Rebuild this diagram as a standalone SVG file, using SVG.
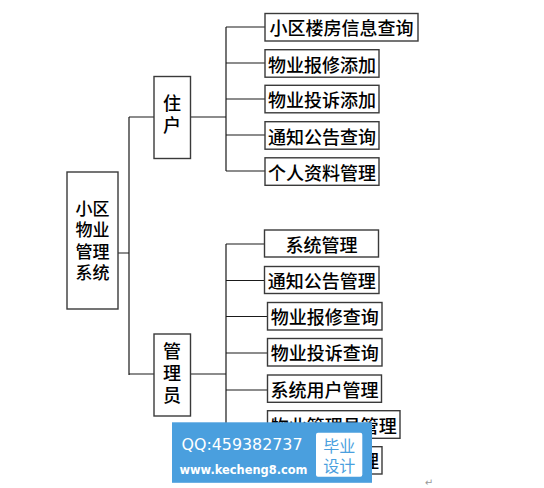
<svg xmlns="http://www.w3.org/2000/svg" width="544" height="488" viewBox="0 0 544 488">
<style>
.box{fill:#fff;stroke:#3a3a3a;stroke-width:1.4}
.t{font-family:"Noto Sans CJK SC","Noto Sans CJK TC",sans-serif;font-size:18px;font-weight:500;fill:#000;text-anchor:middle;dominant-baseline:central}
.rt{font-size:17px}
.v{font-family:"Noto Sans CJK SC","Noto Sans CJK TC",sans-serif;font-size:18px;font-weight:500;fill:#000;writing-mode:vertical-rl}
.ln{stroke:#1a1a1a;stroke-width:1.2;fill:none}
</style>
<rect width="544" height="488" fill="#fff"/>
<g id="connectors">
<path class="ln" d="M118 253H129M129 117V375M129 117H154M190 117H226M226 27V171M226 27H265M226 63H265M226 99H265M226 135H265M226 171H265"/>
<path class="ln" d="M129 374H154M190 374H226M226 244V460M226 244H265M226 280.5H265M226 316.5H268M226 353H268M226 390H268M226 424.5H268M226 460H268"/>
</g>
<g id="root">
<rect class="box" x="67" y="172" width="51" height="137"/>
<text class="t rt"><tspan x="92.5" y="206.5">小区</tspan><tspan x="92.5" y="228">物业</tspan><tspan x="92.5" y="249.5">管理</tspan><tspan x="92.5" y="271">系统</tspan></text>
</g>
<g id="zhuhu">
<rect class="box" x="154" y="76.5" width="36.5" height="82"/>
<text class="v" x="172" y="94.5" letter-spacing="4">住户</text>
</g>
<g id="guanliyuan">
<rect class="box" x="154" y="334" width="36.5" height="82"/>
<text class="v" x="172" y="342" letter-spacing="4.3">管理员</text>
</g>
<g id="r1"><rect class="box" x="265" y="13.5" width="153" height="27.5"/><text class="t" x="341.5" y="27.3">小区楼房信息查询</text></g>
<g id="r2"><rect class="box" x="265" y="49.7" width="114" height="27.5"/><text class="t" x="322" y="63.5">物业报修添加</text></g>
<g id="r3"><rect class="box" x="265" y="85.3" width="114" height="27.5"/><text class="t" x="322" y="99.1">物业投诉添加</text></g>
<g id="r4"><rect class="box" x="265" y="121.7" width="114" height="27.5"/><text class="t" x="322" y="135.5">通知公告查询</text></g>
<g id="r5"><rect class="box" x="265" y="157.8" width="114" height="27.5"/><text class="t" x="322" y="171.6">个人资料管理</text></g>
<g id="a1"><rect class="box" x="264.5" y="230" width="114" height="27"/><text class="t" x="321.5" y="243.5">系统管理</text></g>
<g id="a2"><rect class="box" x="264.5" y="266.5" width="114.5" height="27"/><text class="t" x="321.7" y="280">通知公告管理</text></g>
<g id="a3"><rect class="box" x="267.5" y="302.5" width="114.5" height="27.5"/><text class="t" x="324.7" y="316.3">物业报修查询</text></g>
<g id="a4"><rect class="box" x="267.5" y="338.5" width="114.5" height="27.5"/><text class="t" x="324.7" y="352.3">物业投诉查询</text></g>
<g id="a5"><rect class="box" x="267.5" y="375" width="114" height="27.3"/><text class="t" x="324.5" y="388.7">系统用户管理</text></g>
<g id="a6"><rect class="box" x="267.5" y="410.7" width="132.5" height="27.6"/><text class="t" x="333.7" y="424.5">物业管理员管理</text></g>
<g id="a7"><rect class="box" x="267.5" y="446.7" width="114.5" height="27.3"/><text class="t" x="370" y="460.4">理</text></g>
<g id="watermark">
<rect x="172" y="422.3" width="200" height="60.5" fill="#4a9fde"/>
<text x="181.5" y="449.5" font-family="DejaVu Sans, sans-serif" font-size="16" fill="#fff" textLength="121" lengthAdjust="spacingAndGlyphs">QQ:459382737</text>
<text x="179.5" y="473.5" font-family="DejaVu Sans, sans-serif" font-size="13" font-weight="bold" fill="#fff" textLength="128" lengthAdjust="spacingAndGlyphs">www.kecheng8.com</text>
<rect x="316" y="432.7" width="46.3" height="44" rx="2" fill="#fff"/>
<text font-family="Noto Sans CJK SC, sans-serif" font-size="16" fill="#4a9fde" text-anchor="middle" dominant-baseline="central"><tspan x="339.2" y="445">毕业</tspan><tspan x="339.2" y="465">设计</tspan></text>
</g>
<text x="429" y="486" font-family="DejaVu Sans, sans-serif" font-size="10" fill="#999" text-anchor="middle">↵</text>
</svg>
